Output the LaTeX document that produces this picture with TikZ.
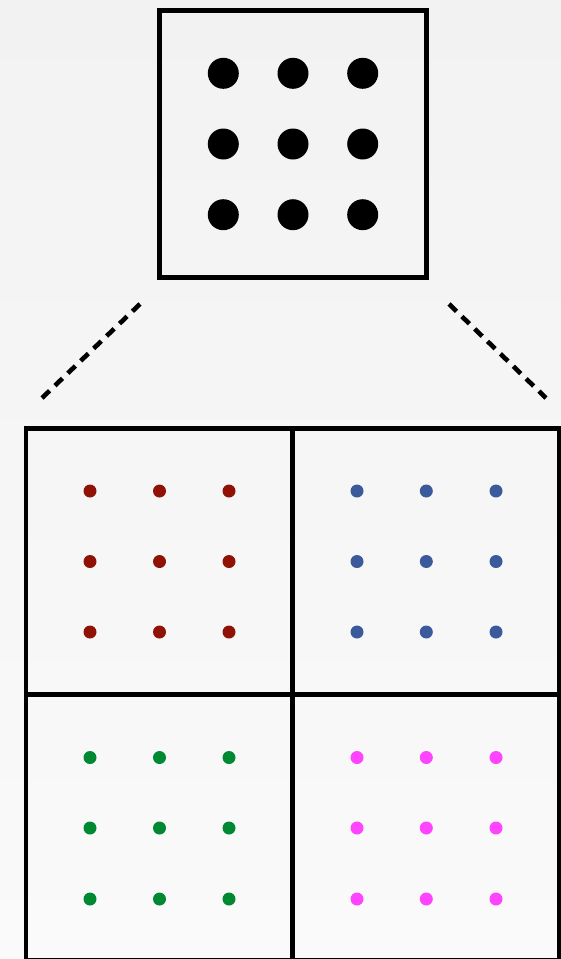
\documentclass[tikz,border=0pt]{standalone}
\usepackage{xcolor}
\usepackage{tikz}
\usetikzlibrary{positioning,calc}

\definecolor{bgtop}{RGB}{242,242,242}
\definecolor{bgbot}{RGB}{250,250,250}
\definecolor{dotred}{RGB}{143,18,4}
\definecolor{dotblue}{RGB}{58,90,155}
\definecolor{dotgreen}{RGB}{0,136,50}
\definecolor{dotpink}{RGB}{255,68,255}

\begin{document}
\begin{tikzpicture}[
  x=1pt, y=-1pt,
  square/.style={rectangle, draw, line width=4.8pt, inner sep=0pt,
    minimum width=266.6pt, minimum height=266pt},
  cell/.style={square, line width=4.6pt},
  bigdot/.style={circle, fill=black, inner sep=0pt, minimum size=31pt},
  smalldot/.style={circle, inner sep=0pt, minimum size=13pt},
  rdot/.style={smalldot, fill=dotred},
  bdot/.style={smalldot, fill=dotblue},
  gdot/.style={smalldot, fill=dotgreen},
  pdot/.style={smalldot, fill=dotpink},
  zoomline/.style={line width=4.6pt, dash pattern=on 10.5pt off 7.4pt},
]
\useasboundingbox (0,0) rectangle (561,959);
\fill[top color=bgtop, bottom color=bgbot] (0,0) rectangle (561,959);
\begin{scope}
\clip (0,0) rectangle (561,959);

% top square
\node[square, minimum height=267pt] at (293,144.2) (top) {};
\node[bigdot] at (223.3,73.3) (t11) {}; \node[bigdot] at (293,73.3) (t12) {}; \node[bigdot] at (362.7,73.3) (t13) {};
\node[bigdot] at (223.3,144) (t21) {}; \node[bigdot] at (293,144) (t22) {}; \node[bigdot] at (362.7,144) (t23) {};
\node[bigdot] at (223.3,214.7) (t31) {}; \node[bigdot] at (293,214.7) (t32) {}; \node[bigdot] at (362.7,214.7) (t33) {};

% zoom lines
\coordinate (zl1) at (140,304);
\coordinate (zl2) at (42,398);
\coordinate (zr1) at (449,304);
\coordinate (zr2) at (546,398);
\draw[zoomline] (zl1) -- (zl2);
\draw[zoomline] (zr1) -- (zr2);

% bottom cells
\node[cell] at (159.4,561.3) (red) {};
\node[cell] at (425.6,561.3) (blue) {};
\node[cell] at (159.4,827.3) (green) {};
\node[cell] at (425.6,827.3) (pink) {};

% red
\node[rdot] at (90,491) (r11) {}; \node[rdot] at (159.5,491) (r12) {}; \node[rdot] at (229,491) (r13) {};
\node[rdot] at (90,561.5) (r21) {}; \node[rdot] at (159.5,561.5) (r22) {}; \node[rdot] at (229,561.5) (r23) {};
\node[rdot] at (90,632) (r31) {}; \node[rdot] at (159.5,632) (r32) {}; \node[rdot] at (229,632) (r33) {};
% blue
\node[bdot] at (357,491) (b11) {}; \node[bdot] at (426.3,491) (b12) {}; \node[bdot] at (496,491) (b13) {};
\node[bdot] at (357,561.5) (b21) {}; \node[bdot] at (426.3,561.5) (b22) {}; \node[bdot] at (496,561.5) (b23) {};
\node[bdot] at (357,632) (b31) {}; \node[bdot] at (426.3,632) (b32) {}; \node[bdot] at (496,632) (b33) {};
% green
\node[gdot] at (90,757.5) (g11) {}; \node[gdot] at (159.5,757.5) (g12) {}; \node[gdot] at (229,757.5) (g13) {};
\node[gdot] at (90,828) (g21) {}; \node[gdot] at (159.5,828) (g22) {}; \node[gdot] at (229,828) (g23) {};
\node[gdot] at (90,899) (g31) {}; \node[gdot] at (159.5,899) (g32) {}; \node[gdot] at (229,899) (g33) {};
% pink
\node[pdot] at (357,757.5) (p11) {}; \node[pdot] at (426.3,757.5) (p12) {}; \node[pdot] at (496,757.5) (p13) {};
\node[pdot] at (357,828) (p21) {}; \node[pdot] at (426.3,828) (p22) {}; \node[pdot] at (496,828) (p23) {};
\node[pdot] at (357,899) (p31) {}; \node[pdot] at (426.3,899) (p32) {}; \node[pdot] at (496,899) (p33) {};
\end{scope}

\end{tikzpicture}
\end{document}
